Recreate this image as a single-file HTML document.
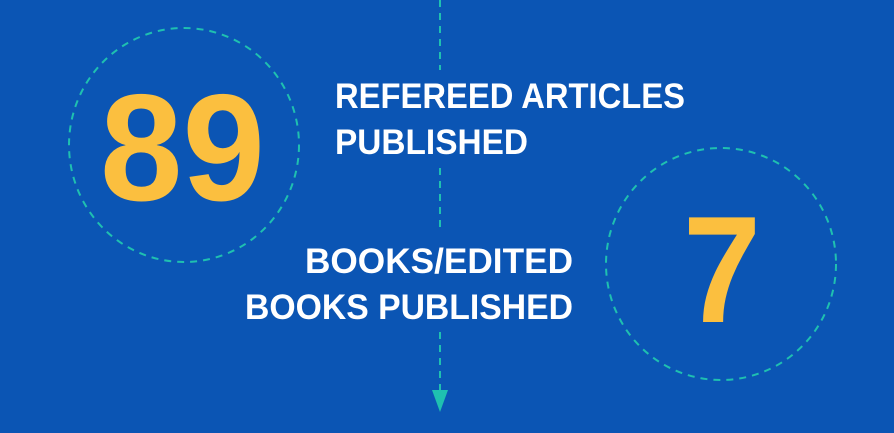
<!DOCTYPE html>
<html><head><style>html,body{margin:0;padding:0;background:#0b55b4;overflow:hidden}</style></head>
<body>
<svg width="894" height="428" viewBox="0 0 894 428" xmlns="http://www.w3.org/2000/svg">
<rect width="894" height="428" fill="#0b55b4"/>
<g stroke="#1fc0b0" stroke-width="2" fill="none" stroke-dasharray="7 6">
<line x1="440" y1="0" x2="440" y2="70"/>
<line x1="440" y1="168" x2="440" y2="232"/>
<line x1="440" y1="332" x2="440" y2="392"/>
<ellipse cx="184" cy="145" rx="115" ry="117"/>
<ellipse cx="721" cy="264" rx="115" ry="116"/>
</g>
<polygon points="432,390 448,390 440,412" fill="#1fc0b0"/>
<g font-family="Liberation Sans, sans-serif" font-weight="bold">
<text x="100" y="200" font-size="152" fill="#fbbf3f" textLength="165" lengthAdjust="spacingAndGlyphs">89</text>
<text x="683" y="322" font-size="152" fill="#fbbf3f" textLength="78" lengthAdjust="spacingAndGlyphs">7</text>
<g fill="#fff" font-size="35">
<text x="335" y="108" textLength="350" lengthAdjust="spacingAndGlyphs">REFEREED ARTICLES</text>
<text x="335" y="154" textLength="193" lengthAdjust="spacingAndGlyphs">PUBLISHED</text>
<text x="305" y="273" textLength="268" lengthAdjust="spacingAndGlyphs">BOOKS/EDITED</text>
<text x="245" y="319" textLength="328" lengthAdjust="spacingAndGlyphs">BOOKS PUBLISHED</text>
</g>
</g>
</svg>
</body></html>
